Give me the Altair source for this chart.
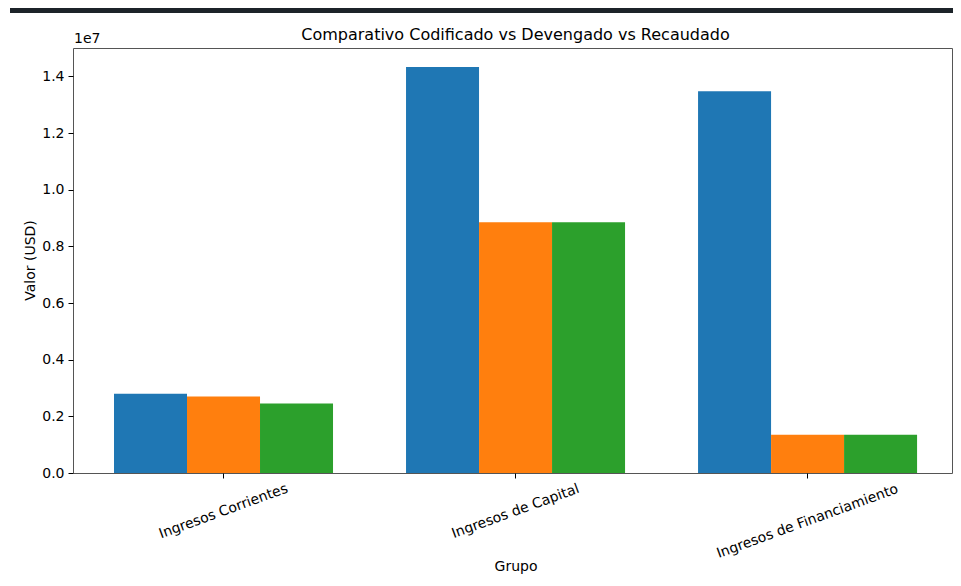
import altair as alt
import pandas as pd

grupos = ["Ingresos Corrientes", "Ingresos de Capital", "Ingresos de Financiamiento"]
series = ["Codificado", "Devengado", "Recaudado"]
codificado = [2.80e6, 1.433e7, 1.3475e7]
devengado = [2.70e6, 8.85e6, 1.35e6]
recaudado = [2.45e6, 8.85e6, 1.35e6]
colores = ["#1f77b4", "#ff7f0e", "#2ca02c"]
y_ticks = [0, 2e6, 4e6, 6e6, 8e6, 1e7, 1.2e7, 1.4e7]
titulo = "Comparativo Codificado vs Devengado vs Recaudado"

rows = []
for i, g in enumerate(grupos):
    for s, vals in zip(series, [codificado, devengado, recaudado]):
        rows.append({"Grupo": g, "Serie": s, "Valor": vals[i]})
df = pd.DataFrame(rows)

FONT = "DejaVu Sans"
W, H = 879, 425

bars = alt.Chart(df).mark_bar(strokeWidth=0).encode(
    x=alt.X(
        "Grupo:N",
        sort=grupos,
        scale=alt.Scale(paddingInner=0.25, paddingOuter=0.13, align=0.54),
        axis=alt.Axis(
            title="Grupo",
            labelAngle=340,
            labelAlign="center",
            labelBaseline="middle",
            labelLimit=1000,
            labelPadding={
                "condition": {"test": "datum.label == 'Ingresos de Financiamiento'", "value": 43},
                "value": 33,
            },
            labelFontSize=14,
            labelFont=FONT,
            labelColor="black",
            tickSize=5,
            tickColor="black",
            domain=False,
            titleFont=FONT,
            titleFontSize=14,
            titleFontWeight="normal",
            titleColor="black",
            titleX=442.5,
            titleY=93,
            titleBaseline="middle",
        ),
    ),
    xOffset=alt.XOffset("Serie:N", sort=series, scale=alt.Scale(paddingInner=0, paddingOuter=0)),
    y=alt.Y(
        "Valor:Q",
        scale=alt.Scale(domain=[0, 1.5e7], nice=False),
        axis=alt.Axis(
            title="Valor (USD)",
            values=y_ticks,
            labelExpr="format(datum.value / 1e7, '.1f')",
            labelFontSize=14,
            labelFont=FONT,
            labelColor="black",
            labelPadding=4,
            tickSize=5,
            tickColor="black",
            domain=False,
            grid=False,
            titleFont=FONT,
            titleFontSize=14,
            titleFontWeight="normal",
            titleColor="black",
            titleX=-43,
            titleY=212,
            titleAngle=270,
            titleAlign="center",
            titleBaseline="middle",
        ),
    ),
    color=alt.Color("Serie:N", sort=series, scale=alt.Scale(domain=series, range=colores), legend=None),
)

title_mark = alt.Chart(pd.DataFrame({"t": [titulo]})).mark_text(
    font=FONT, fontSize=16, color="black", align="center", baseline="middle"
).encode(text="t:N", x=alt.value(442.5), y=alt.value(-13))

offset_mark = alt.Chart(pd.DataFrame({"t": ["1e7"]})).mark_text(
    font=FONT, fontSize=14, color="black", align="left", baseline="middle"
).encode(text="t:N", x=alt.value(1), y=alt.value(-9))

top_bar = alt.Chart(pd.DataFrame({"a": [0]})).mark_rule(color="#1c2329", strokeWidth=5).encode(
    x=alt.value(-63), x2=alt.value(880), y=alt.value(-37.5)
)

chart = alt.layer(bars, title_mark, offset_mark, top_bar).properties(
    width=W,
    height=H,
    autosize=alt.AutoSizeParams(type="none"),
    padding={"left": 65, "top": 40, "right": 1, "bottom": 104},
).configure(background="white").configure_view(stroke="#555555", strokeWidth=1)

chart.save("out.html", embed_options={"renderer": "svg", "actions": False})
